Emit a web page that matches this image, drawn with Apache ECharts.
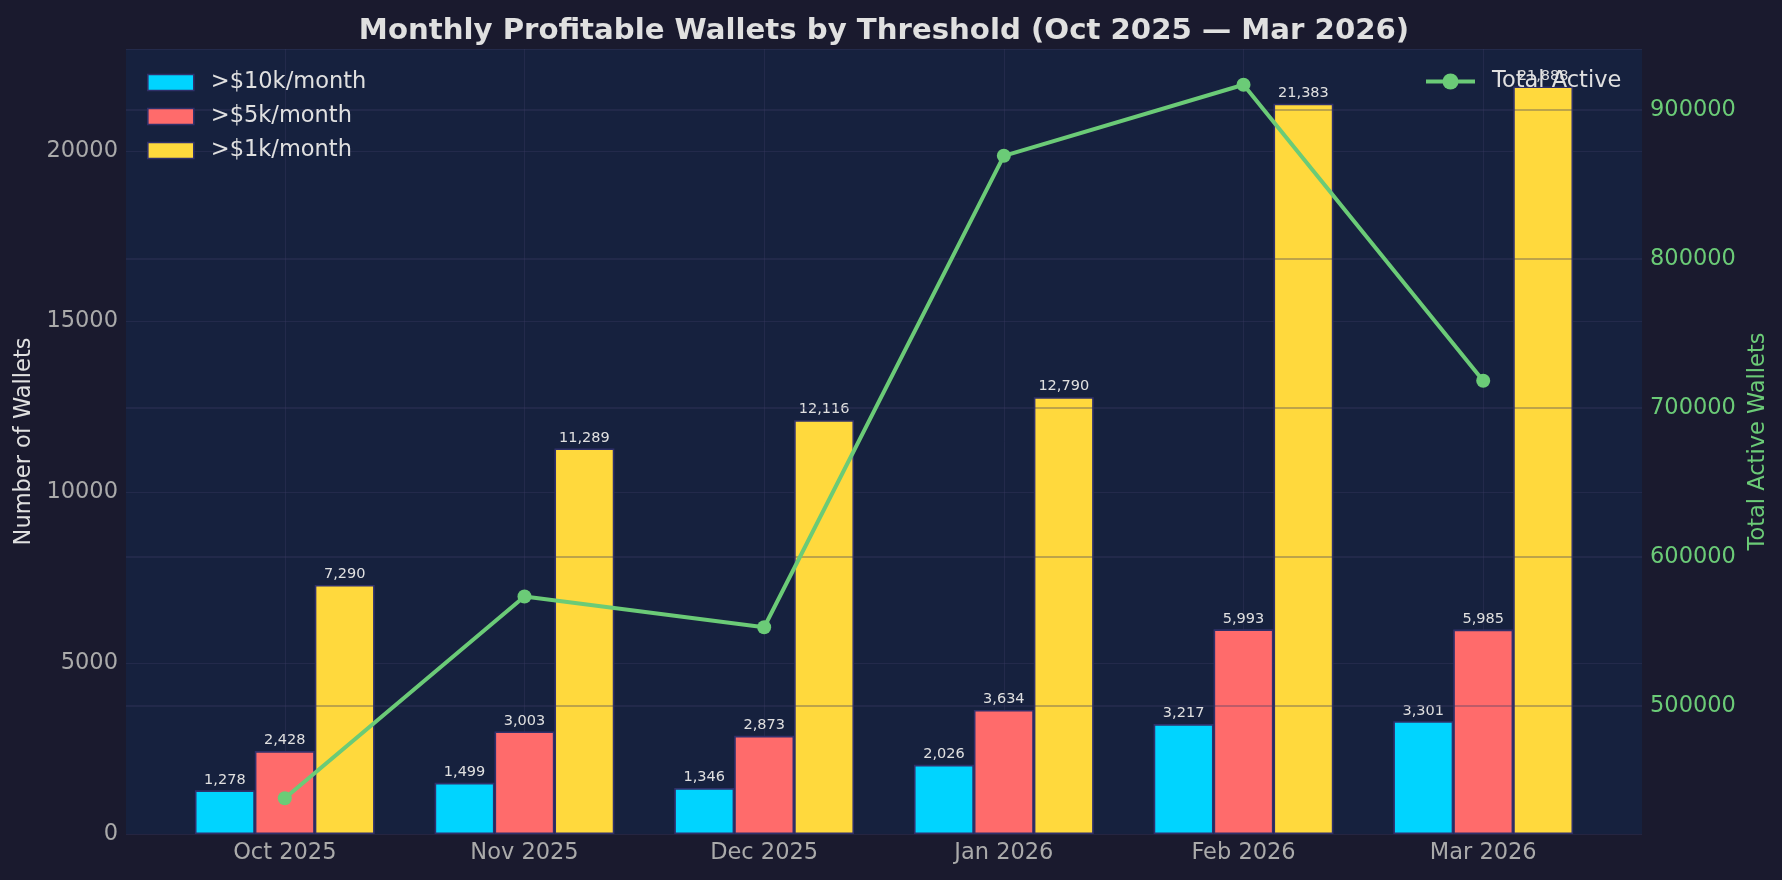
<!DOCTYPE html>
<html lang="en">

<head>
    <meta charset="UTF-8">
    <title>Monthly Profitable Wallets</title>
    <script src="https://cdn.jsdelivr.net/npm/echarts@6/dist/echarts.min.js"></script>
    <style>
        html, body { margin: 0; padding: 0; background: #1a1a2e; }
        #chart { width: 1782px; height: 880px; }
    </style>
</head>

<body>
    <div id="chart"></div>

    <script>
        var months = ['Oct 2025', 'Nov 2025', 'Dec 2025', 'Jan 2026', 'Feb 2026', 'Mar 2026'];
        var over10k = [1278, 1499, 1346, 2026, 3217, 3301];
        var over5k = [2428, 3003, 2873, 3634, 5993, 5985];
        var over1k = [7290, 11289, 12116, 12790, 21383, 21888];
        var totalActive = [438000, 573400, 552800, 869300, 917000, 718300];
        var rightTicks = [500000, 600000, 700000, 800000, 900000];

        var FONT = 'DejaVu Sans';
        var edge = '#30306a';
        var gridLine = 'rgba(60, 60, 100, 0.35)';

        function pairs(arr) {
            return arr.map(function (v, i) { return [i, v]; });
        }

        function barSeries(name, color, data) {
            return {
                name: name,
                type: 'bar',
                barWidth: '25%',
                barGap: '0%',
                data: pairs(data),
                itemStyle: { color: color, borderColor: edge, borderWidth: 1.6 },
                label: {
                    show: true,
                    position: 'top',
                    distance: 3,
                    color: '#e0e0e0',
                    fontFamily: FONT,
                    fontSize: 14.5,
                    formatter: function (p) { return p.value[1].toLocaleString('en-US'); }
                }
            };
        }

        var series = [
            barSeries('>$10k/month', '#00d4ff', over10k),
            barSeries('>$5k/month', '#ff6b6b', over5k),
            barSeries('>$1k/month', '#ffd93d', over1k),
            {
                name: 'Total Active',
                type: 'line',
                yAxisIndex: 1,
                z: 5,
                data: pairs(totalActive),
                symbol: 'circle',
                symbolSize: 14,
                lineStyle: { color: '#6bcb77', width: 4 },
                itemStyle: { color: '#6bcb77' },
                // right-axis grid, drawn over the bars like the twin axis grid
                markLine: {
                    z: 3,
                    silent: true,
                    symbol: 'none',
                    label: { show: false },
                    lineStyle: { color: 'rgba(60, 60, 100, 0.45)', width: 1.5, type: 'solid' },
                    data: rightTicks.map(function (v) { return { yAxis: v }; })
                }
            }
        ];

        // vertical grid at month centres, under the bars (middle bar has no offset)
        series[1].markLine = {
            z: 1,
            silent: true,
            symbol: 'none',
            label: { show: false },
            lineStyle: { color: gridLine, width: 1, type: 'solid' },
            data: months.map(function (m, i) { return { xAxis: i }; })
        };

        var chart = echarts.init(document.getElementById('chart'));

        var option = {
            backgroundColor: '#1a1a2e',
            animation: false,
            title: {
                text: 'Monthly Profitable Wallets by Threshold (Oct 2025 \u2014 Mar 2026)',
                left: 879,
                textAlign: 'center',
                top: 12,
                textStyle: { color: '#e0e0e0', fontFamily: FONT, fontSize: 29.2, fontWeight: 'bold' }
            },
            legend: [
                {
                    data: ['>$10k/month', '>$5k/month', '>$1k/month'],
                    orient: 'vertical',
                    left: 147,
                    top: 71,
                    padding: 0,
                    icon: 'rect',
                    itemWidth: 46,
                    itemHeight: 16,
                    itemGap: 11,
                    itemStyle: { borderColor: edge, borderWidth: 1.6 },
                    textStyle: { color: '#e0e0e0', fontFamily: FONT, fontSize: 22.5, padding: [0, 0, 0, 12] }
                },
                {
                    data: ['Total Active'],
                    left: 1424,
                    top: 70,
                    padding: 0,
                    itemWidth: 49,
                    itemHeight: 20,
                    lineStyle: { width: 4 },
                    textStyle: { color: '#e0e0e0', fontFamily: FONT, fontSize: 22.5, padding: [0, 0, 0, 12] }
                }
            ],
            grid: {
                left: 126,
                right: 140,
                top: 49,
                bottom: 46,
                show: true,
                backgroundColor: '#16213e',
                borderWidth: 0
            },
            xAxis: {
                type: 'value',
                min: -0.6625,
                max: 5.6625,
                interval: 0.0125,
                axisLine: { show: false },
                axisTick: { show: false },
                splitLine: { show: false },
                axisLabel: {
                    color: '#aaaaaa',
                    fontFamily: FONT,
                    fontSize: 22.5,
                    margin: 8,
                    formatter: function (v) {
                        var i = Math.round(v);
                        return Math.abs(v - i) < 1e-6 && months[i] ? months[i] : '';
                    }
                }
            },
            yAxis: [
                {
                    type: 'value',
                    min: 0,
                    max: 22982.4,
                    interval: 5000,
                    name: 'Number of Wallets',
                    nameLocation: 'middle',
                    nameGap: 81,
                    nameRotate: 90,
                    nameTextStyle: { color: '#e0e0e0', fontFamily: FONT, fontSize: 22.5 },
                    axisLine: { show: false },
                    axisTick: { show: false },
                    splitLine: { show: true, lineStyle: { color: gridLine, width: 1 } },
                    axisLabel: {
                        color: '#aaaaaa',
                        fontFamily: FONT,
                        fontSize: 22.5,
                        margin: 8,
                        padding: [4, 0, 0, 0],
                        showMaxLabel: false,
                        formatter: function (v) { return String(v); }
                    }
                },
                {
                    type: 'value',
                    position: 'right',
                    min: 414000,
                    max: 941000,
                    interval: 1000,
                    name: 'Total Active Wallets',
                    nameLocation: 'middle',
                    nameGap: 93,
                    nameRotate: 90,
                    nameTextStyle: { color: '#6bcb77', fontFamily: FONT, fontSize: 22.5 },
                    axisLine: { show: false },
                    axisTick: { show: false },
                    splitLine: { show: false },
                    axisLabel: {
                        color: '#6bcb77',
                        fontFamily: FONT,
                        fontSize: 22.5,
                        margin: 8,
                        padding: [4, 0, 0, 0],
                        formatter: function (v) {
                            return rightTicks.indexOf(Math.round(v)) >= 0 ? String(Math.round(v)) : '';
                        }
                    }
                }
            ],
            series: series
        };

        option && chart.setOption(option);
    </script>

</body>

</html>
